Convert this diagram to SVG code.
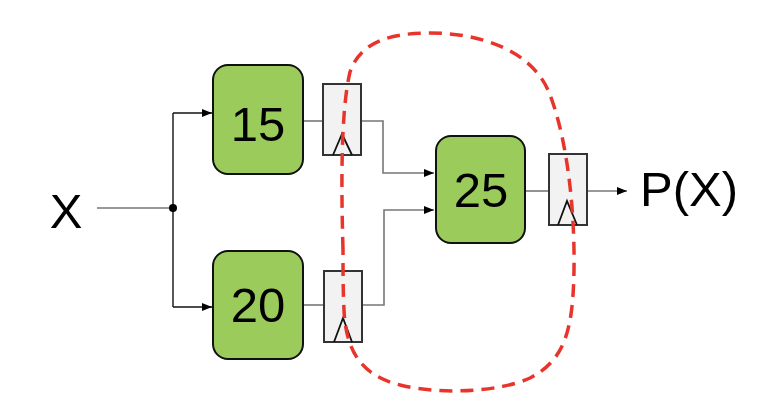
<svg xmlns="http://www.w3.org/2000/svg" width="772" height="412" viewBox="0 0 772 412">
<style>
.blk{fill:#9BCB5B;stroke:#111;stroke-width:2}
.reg{fill:#F2F2F2;stroke:#333;stroke-width:2}
.clk{fill:none;stroke:#111;stroke-width:1.8}
.lbl{font-family:"Liberation Sans",Arial,sans-serif;font-size:49px;fill:#000;text-anchor:middle}
.w{fill:none;stroke:#777;stroke-width:1.6}
.wb{fill:none;stroke:#111;stroke-width:1.4}
</style>
<defs>
<marker id="ah" markerWidth="10" markerHeight="8" refX="10" refY="4" orient="auto" markerUnits="userSpaceOnUse">
<path d="M0,0 L10,4 L0,8 Z" fill="#000"/>
</marker>
</defs>
<g id="connectors">
<line class="w" x1="97" y1="208" x2="173" y2="208"/>
<path class="wb" d="M173,113 V307"/>
<path class="wb" d="M173,113 H212" marker-end="url(#ah)"/>
<path class="wb" d="M173,307 H212" marker-end="url(#ah)"/>
<circle cx="173" cy="208" r="4" fill="#000"/>
<line class="w" x1="303" y1="121" x2="323" y2="121"/>
<line class="w" x1="303" y1="305" x2="324" y2="305"/>
<path class="w" d="M361,121 H383 V173 H434" marker-end="url(#ah)"/>
<path class="w" d="M362,305 H384 V210 H434" marker-end="url(#ah)"/>
<line class="w" x1="525" y1="191" x2="548" y2="191"/>
<path class="w" d="M587,191 H627" marker-end="url(#ah)"/>
</g>
<g id="X"><text class="lbl" x="66" y="228">X</text></g>
<g id="b15"><rect class="blk" x="213" y="65" width="90" height="109" rx="15"/><text class="lbl" x="258" y="141">15</text></g>
<g id="b20"><rect class="blk" x="213" y="251" width="90" height="108" rx="15"/><text class="lbl" x="258" y="322">20</text></g>
<g id="b25"><rect class="blk" x="436" y="136" width="89" height="107" rx="15"/><text class="lbl" x="481" y="207">25</text></g>
<g id="r1"><rect class="reg" x="323" y="84" width="38" height="71"/><path class="clk" d="M333,155 L342,134 L352,155"/></g>
<g id="r2"><rect class="reg" x="324" y="271" width="38" height="71"/><path class="clk" d="M334,342 L343,318 L352,342"/></g>
<g id="r3"><rect class="reg" x="549" y="154" width="38" height="71"/><path class="clk" d="M558,225 L567,201 L577,225"/></g>
<g id="PX"><text class="lbl" x="689" y="206">P(X)</text></g>
<g id="loop">
<path d="M343,250 C341,180 341,110 350,72 C360,42 390,33 430,33 C480,33 530,50 548,90 C565,130 575,200 574,270 C573,330 565,360 530,378 C500,392 440,395 400,385 C360,375 346,350 344,310 C343,290 343,270 343,250 Z" fill="none" stroke="#E8352B" stroke-width="3.5" stroke-dasharray="13 8"/>
</g>
</svg>
